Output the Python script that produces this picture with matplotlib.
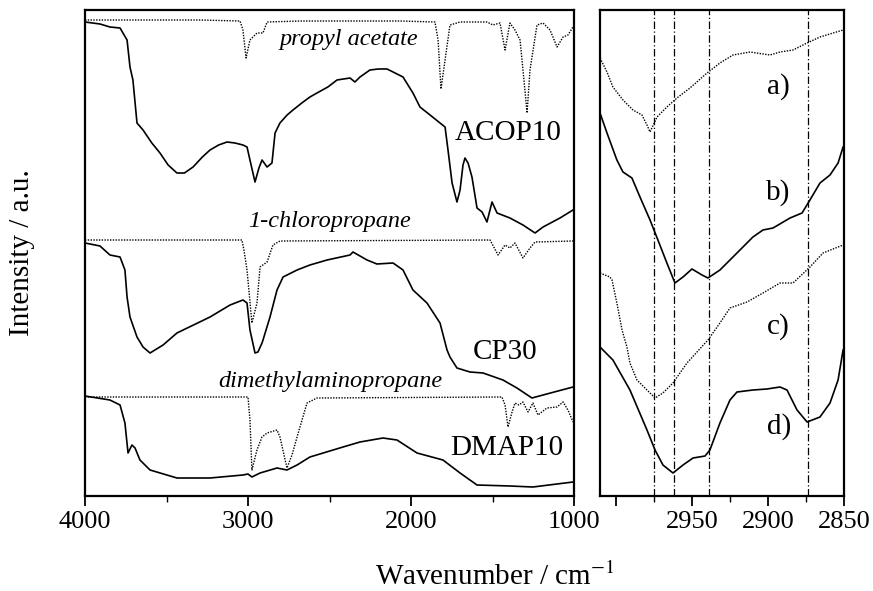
import numpy as np
import matplotlib
matplotlib.use("Agg")
import matplotlib.pyplot as plt

plt.rcParams['font.family'] = ['Liberation Serif', 'DejaVu Serif']
plt.rcParams['mathtext.fontset'] = 'stix'

# ---- left panel: full spectra (wavenumber / cm-1, intensity a.u.) ----
pa_w = [4000, 3847, 3294, 3049, 3031, 3012, 2988, 2945, 2908, 2883, 2681, 2067, 1853, 1834,
        1816, 1791, 1761, 1699, 1534, 1497, 1454, 1423, 1393, 1362, 1331, 1307, 1288, 1270,
        1227, 1190, 1147, 1104, 1067, 1037, 1006]
pa_i = [475, 475, 475, 474, 465, 437, 455, 462, 462, 473, 474, 474, 473, 455,
        406, 435, 470, 473, 473, 470, 472, 445, 472, 465, 455, 415, 382, 425,
        470, 472, 465, 448, 458, 460, 468]

acop_w = [4000, 3908, 3847, 3785, 3742, 3724, 3706, 3681, 3644, 3590, 3540, 3490, 3436, 3390,
          3337, 3280, 3233, 3180, 3129, 3080, 3031, 3006, 2988, 2957, 2933, 2914, 2883, 2853,
          2834, 2804, 2760, 2724, 2670, 2620, 2577, 2510, 2454, 2374, 2344, 2313, 2252, 2200,
          2147, 2110, 2049, 1988, 1945, 1883, 1822, 1791, 1773, 1748, 1718, 1699, 1681, 1669,
          1650, 1626, 1595, 1564, 1534, 1503, 1472, 1393, 1313, 1239, 1190, 1086, 1006]
acop_i = [473, 471, 468, 467, 455, 428, 415, 372, 365, 352, 342, 330, 322, 322,
          328, 338, 345, 350, 353, 352, 350, 348, 335, 313, 327, 335, 328, 332,
          362, 372, 380, 385, 392, 398, 402, 408, 415, 417, 413, 418, 425, 426,
          426, 423, 418, 402, 388, 380, 372, 368, 345, 312, 293, 305, 330, 337,
          332, 318, 287, 283, 273, 293, 282, 277, 270, 262, 268, 277, 285]

cl_w = [4000, 3037, 3025, 3006, 2976, 2945, 2926, 2883, 2847, 2804, 1515, 1466, 1423, 1393,
        1362, 1313, 1270, 1239, 1006]
cl_i = [255, 255, 245, 225, 172, 192, 228, 233, 250, 254, 255, 240, 250, 247,
        252, 237, 247, 253, 254]

cp_w = [4000, 3908, 3847, 3785, 3755, 3742, 3724, 3681, 3644, 3601, 3521, 3436, 3233, 3110,
        3031, 3006, 2988, 2957, 2939, 2914, 2908, 2865, 2822, 2785, 2699, 2620, 2515, 2374,
        2356, 2270, 2209, 2110, 2049, 1988, 1902, 1822, 1779, 1761, 1718, 1638, 1558, 1436,
        1350, 1258, 1190, 1006]
cp_i = [252, 249, 240, 238, 225, 198, 178, 158, 148, 142, 150, 162, 178, 190,
        195, 192, 165, 142, 143, 152, 155, 178, 205, 218, 225, 230, 235, 240,
        243, 235, 231, 232, 225, 205, 192, 172, 145, 138, 127, 123, 122, 115,
        107, 97, 100, 108]

dm_w = [4000, 3000, 2988, 2976, 2945, 2914, 2883, 2822, 2804, 2779, 2761, 2730, 2699, 2638,
        2577, 1442, 1423, 1405, 1380, 1362, 1338, 1313, 1282, 1252, 1221, 1166, 1104, 1067,
        1037, 1006]
dm_i = [98, 98, 75, 25, 45, 58, 62, 65, 58, 40, 27, 40, 58, 92,
        97, 98, 90, 68, 83, 92, 90, 93, 83, 92, 80, 87, 88, 93,
        85, 73]

dmap_w = [4000, 3847, 3785, 3755, 3736, 3712, 3693, 3663, 3601, 3436, 3233, 3031, 3000, 2976,
          2926, 2822, 2761, 2699, 2620, 2417, 2313, 2172, 2086, 1963, 1804, 1699, 1595, 1393,
          1252, 1006]
dmap_i = [99, 95, 90, 72, 42, 50, 47, 35, 25, 17, 17, 20, 21, 18,
          22, 27, 25, 30, 38, 48, 53, 57, 55, 42, 35, 22, 10, 9,
          8, 13]

# ---- right panel: C-H stretching region ----
a_w = [3010.5, 3005.9, 3002, 2995.4, 2988.8, 2982.9, 2979.6, 2977.6, 2973, 2966.5, 2959.9,
       2951.3, 2940.1, 2931.6, 2923, 2911.8, 2898.7, 2892.1, 2883.5, 2874.3, 2865.8, 2850.6]
a_i = [437, 423, 408, 395, 385, 380, 370, 363, 378, 388, 397,
       407, 422, 432, 440, 443, 440, 443, 445, 452, 458, 465]

b_w = [3010.5, 3005.9, 2999.4, 2995.4, 2989.5, 2984.2, 2977.6, 2972.4, 2966.5, 2961.2, 2955.9,
       2950, 2943.4, 2939.5, 2931.6, 2920.4, 2909.9, 2903.3, 2896.7, 2885.5, 2877.6, 2872.4,
       2865.8, 2859.2, 2853.9, 2850.6]
b_i = [382, 362, 335, 323, 317, 298, 275, 255, 232, 212, 218,
       226, 220, 217, 225, 242, 258, 265, 267, 277, 282, 295,
       312, 320, 332, 348]

c_w = [3010.5, 3004, 3002.6, 2999.4, 2996, 2992.8, 2990.8, 2986.2, 2979.6, 2974.3, 2969.1,
       2962.5, 2957.9, 2953.3, 2946.7, 2939.5, 2931.6, 2925, 2913.8, 2903.3, 2892.1, 2883.5,
       2872.4, 2863.8, 2850.6]
c_i = [222, 218, 215, 192, 165, 148, 132, 115, 105, 97, 102,
       112, 122, 132, 143, 155, 172, 187, 193, 202, 212, 212,
       228, 242, 250]

d_w = [3010.5, 3002, 2990.8, 2979.6, 2974.3, 2969.1, 2962.5, 2955.9, 2949.3, 2941.4, 2938.2,
       2931.6, 2925, 2920.4, 2909.9, 2900.7, 2892.1, 2887.5, 2880.9, 2874.3, 2865.8, 2859.2,
       2853.9, 2850.6]
d_i = [148, 135, 105, 65, 45, 30, 22, 30, 37, 39, 45,
       72, 95, 103, 105, 106, 108, 105, 85, 73, 78, 92,
       115, 145]

marker_lines = [2975, 2962, 2939, 2874]

dot = (0, (1, 1))
dashdot = (0, (6, 2, 1, 2))

fig = plt.figure(figsize=(8.73, 5.91), dpi=100)
ax1 = fig.add_axes([85 / 873, 95 / 591, 489 / 873, 486 / 591])
ax2 = fig.add_axes([600 / 873, 95 / 591, 244 / 873, 486 / 591])

ax1.plot(pa_w, pa_i, color='black', lw=1.0, ls=dot)
ax1.plot(acop_w, acop_i, color='black', lw=1.2)
ax1.plot(cl_w, cl_i, color='black', lw=1.0, ls=dot)
ax1.plot(cp_w, cp_i, color='black', lw=1.2)
ax1.plot(dm_w, dm_i, color='black', lw=1.0, ls=dot)
ax1.plot(dmap_w, dmap_i, color='black', lw=1.2)

ax1.text(2380, 456, 'propyl acetate', style='italic', fontsize=17.5, ha='center', va='center')
ax1.text(1405, 362, 'ACOP10', fontsize=21, ha='center', va='center')
ax1.text(2497, 273, '1-chloropropane', style='italic', fontsize=17.5, ha='center', va='center')
ax1.text(1423, 143, 'CP30', fontsize=21, ha='center', va='center')
ax1.text(2497, 113, 'dimethylaminopropane', style='italic', fontsize=17.5, ha='center',
         va='center')
ax1.text(1415, 47, 'DMAP10', fontsize=21, ha='center', va='center')

ax1.set_xlim(4000, 1000)
ax1.set_ylim(-1, 485)
ax1.set_xticks([4000, 3000, 2000, 1000])
ax1.set_xticks([3500, 2500, 1500], minor=True)

ax2.plot(a_w, a_i, color='black', lw=1.0, ls=dot)
ax2.plot(b_w, b_i, color='black', lw=1.2)
ax2.plot(c_w, c_i, color='black', lw=1.0, ls=dot)
ax2.plot(d_w, d_i, color='black', lw=1.2)
for w in marker_lines:
    ax2.axvline(w, color='black', lw=0.9, ls=dashdot)

for lab, yy in zip(['a)', 'b)', 'c)', 'd)'], [408, 302, 168, 68]):
    ax2.text(2893, yy, lab, fontsize=21, ha='center', va='center')

ax2.set_xlim(3010.5, 2850)
ax2.set_ylim(-1, 485)
ax2.set_xticks([3000, 2950, 2900, 2850])
ax2.set_xticklabels(['', '2950', '2900', '2850'])
ax2.set_xticks([2975, 2925, 2875], minor=True)

for ax in (ax1, ax2):
    ax.tick_params(axis='y', left=False, labelleft=False)
    ax.tick_params(axis='x', which='major', direction='out', length=7, width=1.3,
                   labelsize=19, pad=4)
    ax.tick_params(axis='x', which='minor', direction='out', length=4, width=1.0)
    for s in ax.spines.values():
        s.set_linewidth(1.6)

fig.text(22 / 873, 1 - 253 / 591, 'Intensity / a.u.', rotation=90, fontsize=21,
         ha='center', va='center')
fig.text(495 / 873, 6 / 591, 'Wavenumber / cm$^{-1}$', fontsize=21, ha='center',
         va='baseline')

fig.savefig('out.png', dpi=100)
